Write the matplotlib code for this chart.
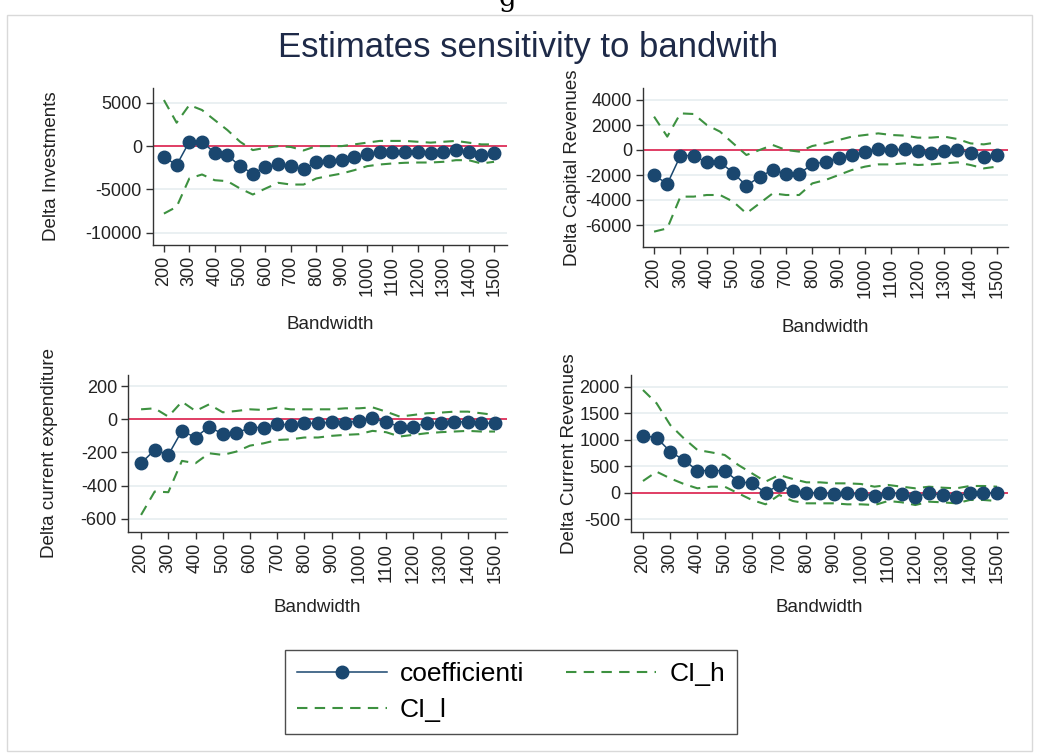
import numpy as np
import matplotlib.pyplot as plt
from matplotlib.patches import Rectangle

plt.rcParams['font.family'] = ['Liberation Sans', 'DejaVu Sans']
plt.rcParams['axes.unicode_minus'] = False

bandwidth = [200, 250, 300, 350, 400, 450, 500, 550, 600, 650, 700, 750, 800, 850,
             900, 950, 1000, 1050, 1100, 1150, 1200, 1250, 1300, 1350, 1400, 1450, 1500]

# Delta Investments
inv_coef = [-1230, -2190, 500, 500, -770, -1040, -2310, -3160, -2390, -2040, -2310, -2660, -1810, -1660,
            -1580, -1230, -920, -650, -650, -650, -650, -770, -650, -460, -650, -1040, -770]
inv_hi = [5310, 2700, 4740, 4160, 3000, 1850, 500, -460, -200, 0, -100, -500, 0, 0,
          0, 200, 400, 600, 600, 600, 500, 400, 500, 600, 400, 200, 200]
inv_lo = [-7780, -7000, -3730, -3270, -3930, -4040, -4890, -5580, -4890, -4230, -4430, -4430, -3730, -3430,
          -3160, -2770, -2310, -2120, -2000, -1920, -1890, -1890, -1810, -1620, -1620, -2000, -1810]

# Delta Capital Revenues
cap_coef = [-2000, -2720, -450, -450, -990, -990, -1810, -2880, -2130, -1600, -1890, -1890, -1150, -930,
            -610, -400, -130, 80, 0, 80, -50, -210, -80, 30, -210, -530, -400]
cap_hi = [2670, 1070, 2930, 2880, 2000, 1470, 530, -400, 0, 400, 0, -130, 320, 530,
          800, 1070, 1200, 1330, 1200, 1150, 990, 990, 1070, 880, 530, 450, 610]
cap_lo = [-6530, -6270, -3730, -3730, -3600, -3600, -4130, -5070, -4270, -3470, -3600, -3600, -2670, -2400,
          -2000, -1600, -1330, -1150, -1150, -1070, -1200, -1150, -1070, -990, -1200, -1470, -1330]

# Delta current expenditure
exp_coef = [-265, -185, -215, -70, -110, -44, -90, -84, -50, -50, -30, -34, -24, -24,
            -18, -24, -8, 6, -18, -44, -44, -24, -24, -18, -14, -24, -24]
exp_hi = [60, 66, 16, 106, 50, 90, 42, 50, 60, 56, 70, 60, 60, 60,
          60, 66, 66, 72, 46, 16, 26, 36, 40, 46, 46, 36, 26]
exp_lo = [-577, -436, -440, -251, -265, -205, -215, -195, -159, -145, -125, -121, -110, -110,
          -100, -94, -90, -70, -78, -104, -94, -84, -78, -74, -70, -74, -74]

# Delta Current Revenues
rev_coef = [1075, 1038, 774, 616, 415, 415, 415, 208, 176, 0, 145, 38, 0, 0,
            -25, -13, -25, -57, 0, -25, -75, -13, -44, -75, 0, 0, -13]
rev_hi = [1937, 1686, 1277, 1025, 805, 761, 711, 522, 365, 208, 333, 258, 195, 195,
          176, 176, 164, 113, 145, 113, 82, 113, 94, 82, 126, 126, 113]
rev_lo = [220, 396, 270, 164, 82, 113, 113, -13, -138, -220, -44, -157, -201, -201,
          -201, -220, -220, -233, -157, -182, -233, -170, -182, -201, -138, -138, -157]

navy = '#1a476f'
green = '#3d9140'
red = '#e0305a'
grid = '#e6eef0'
W, H = 1039, 754

panels = [
    # (left, right, top, bottom) in pixels, ylabel, data, yticks, ylim, xlim, ylabel x
    ((153, 507, 88, 245), 'Delta Investments', (inv_coef, inv_hi, inv_lo),
     [5000, 0, -5000, -10000], (-11400, 6700), (157, 1551), -0.263),
    ((643, 1008, 88, 247), 'Delta Capital Revenues', (cap_coef, cap_hi, cap_lo),
     [4000, 2000, 0, -2000, -4000, -6000], (-7760, 4960), (158, 1542), -0.17),
    ((128, 507, 375, 532), 'Delta current expenditure', (exp_coef, exp_hi, exp_lo),
     [200, 0, -200, -400, -600], (-680, 267), (152, 1544), -0.185),
    ((631, 1008, 375, 532), 'Delta Current Revenues', (rev_coef, rev_hi, rev_lo),
     [2000, 1500, 1000, 500, 0, -500], (-742, 2220), (156, 1540), -0.14),
]

fig = plt.figure(figsize=(W / 100, H / 100), dpi=100)
fig.patch.set_facecolor('white')

# thin grey frame round the graph region
fig.patches.append(Rectangle((7 / W, 1 - 751 / H), 1025 / W, 736 / H, transform=fig.transFigure,
                             fill=False, edgecolor='#d9d9d9', linewidth=1))

fig.text(0.488, 1.002, 'g', fontsize=20, family='serif', ha='center', va='center', color='black')
fig.text(0.508, 1 - 47 / H, 'Estimates sensitivity to bandwith', fontsize=25,
         ha='center', va='center', color='#1e2a48')

handles = None
for (l, r, t, b), ylab, (coef, hi, lo), yticks, ylim, xlim, labx in panels:
    ax = fig.add_axes([l / W, 1 - b / H, (r - l) / W, (b - t) / H])
    ax.axhline(0, color=red, linewidth=1.3, zorder=1)
    h_hi, = ax.plot(bandwidth, hi, color=green, linewidth=1.5, dashes=(5, 3.5), zorder=2)
    h_lo, = ax.plot(bandwidth, lo, color=green, linewidth=1.5, dashes=(5, 3.5), zorder=2)
    h_c, = ax.plot(bandwidth, coef, color=navy, linewidth=1.1, marker='o', markersize=9,
                   markerfacecolor=navy, markeredgecolor=navy, zorder=3)
    if handles is None:
        handles = [h_c, h_lo, h_hi]
    ax.set_xlim(*xlim)
    ax.set_ylim(*ylim)
    ax.set_xticks(range(200, 1501, 100))
    ax.set_yticks(yticks)
    ax.tick_params(axis='x', labelrotation=90)
    ax.tick_params(direction='out', length=5, width=1, color='#333333', labelsize=13,
                   labelcolor='#222222', pad=3)
    ax.grid(axis='y', color=grid, linewidth=1.2)
    ax.set_axisbelow(True)
    for s in ('top', 'right'):
        ax.spines[s].set_visible(False)
    for s in ('left', 'bottom'):
        ax.spines[s].set_color('#333333')
        ax.spines[s].set_linewidth(1)
    ax.set_ylabel(ylab, fontsize=13.5, color='#222222')
    ax.yaxis.set_label_coords(labx, 0.5)
    ax.set_xlabel('Bandwidth', fontsize=13.5, color='#222222')
    ax.xaxis.set_label_coords(0.5, -0.452 if t < 300 else -0.427)

leg = fig.legend(handles, ['coefficienti', 'CI_l', 'CI_h'], ncol=2, loc='center',
                 bbox_to_anchor=(511 / W, 1 - 692 / H), fontsize=19, handlelength=3.4,
                 columnspacing=1.6, handletextpad=0.5, labelspacing=0.45, borderpad=0.45,
                 fancybox=False, frameon=True)
leg.get_frame().set_edgecolor('#222222')
leg.get_frame().set_linewidth(1)

fig.savefig('out.png', dpi=100)
